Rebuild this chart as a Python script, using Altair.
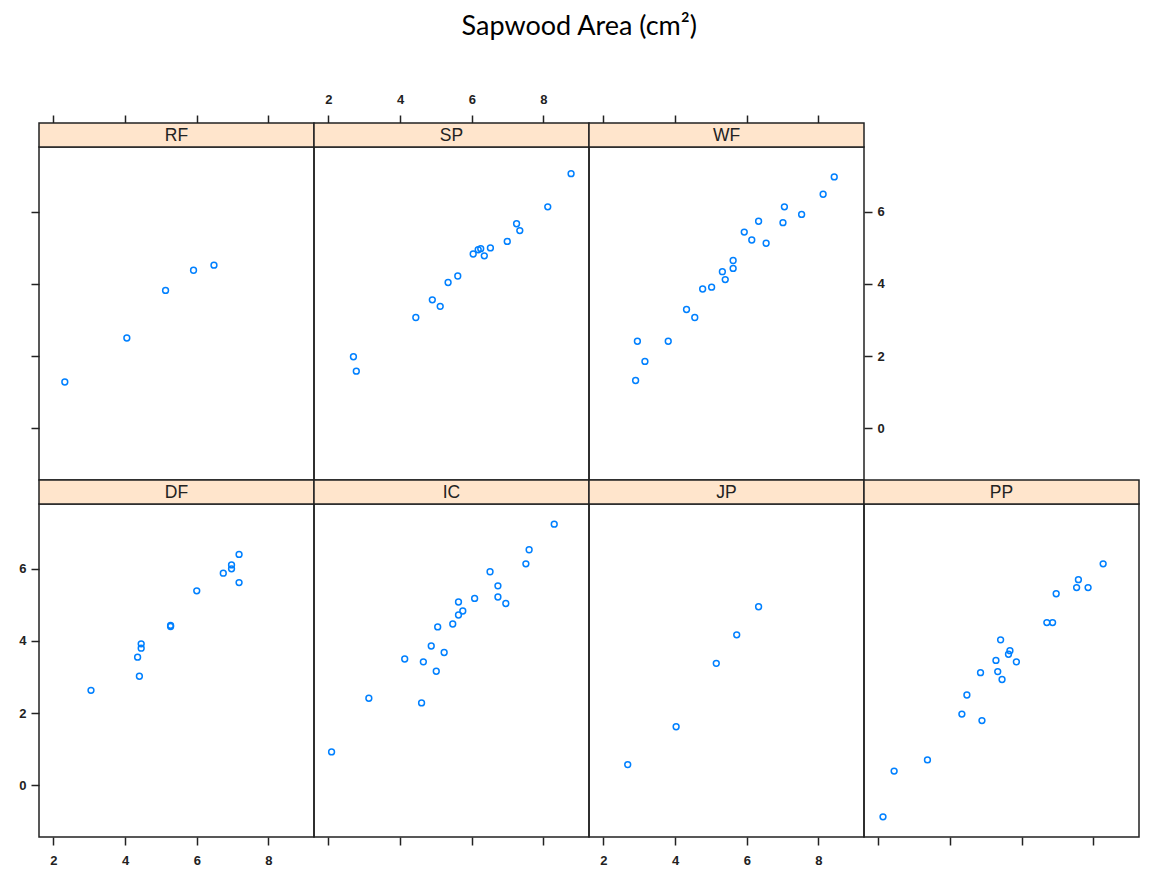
import altair as alt
import pandas as pd

# ---- data (x = log-ish predictor, y = sapwood area) ----
RF_x = [2.32, 4.05, 5.13, 5.91, 6.48]
RF_y = [1.28, 2.50, 3.82, 4.38, 4.52]

SP_x = [8.77, 8.12, 7.25, 7.34, 6.99, 6.52, 6.25, 6.18, 6.04, 6.35, 5.61, 5.34, 4.90, 5.12, 4.44, 2.70, 2.78]
SP_y = [7.06, 6.14, 5.67, 5.48, 5.18, 5.00, 4.98, 4.95, 4.83, 4.78, 4.22, 4.04, 3.56, 3.38, 3.07, 1.98, 1.58]

WF_x = [8.44, 8.13, 7.05, 7.53, 7.01, 6.33, 5.93, 6.14, 6.54, 5.62, 5.62, 5.32, 5.40, 5.02, 4.77, 4.32, 4.55, 2.95, 3.81, 3.16, 2.90]
WF_y = [6.97, 6.49, 6.14, 5.93, 5.70, 5.74, 5.44, 5.22, 5.13, 4.65, 4.43, 4.34, 4.12, 3.91, 3.86, 3.29, 3.07, 2.41, 2.41, 1.85, 1.32]

DF_x = [7.18, 6.97, 6.97, 6.74, 7.18, 6.00, 5.27, 5.27, 4.45, 4.45, 4.35, 4.40, 3.05]
DF_y = [6.40, 6.11, 6.00, 5.88, 5.62, 5.39, 4.43, 4.40, 3.92, 3.80, 3.55, 3.02, 2.63]

IC_x = [8.30, 7.60, 7.51, 6.51, 6.73, 6.73, 6.95, 6.08, 5.63, 5.75, 5.63, 5.47, 5.05, 4.87, 5.23, 4.13, 4.65, 5.01, 3.13, 4.60, 2.09]
IC_y = [7.24, 6.53, 6.14, 5.92, 5.53, 5.22, 5.04, 5.18, 5.08, 4.83, 4.72, 4.47, 4.39, 3.86, 3.68, 3.50, 3.42, 3.16, 2.41, 2.28, 0.92]

JP_x = [6.33, 5.72, 5.15, 4.03, 2.68]
JP_y = [4.95, 4.17, 3.38, 1.62, 0.57]

PP_x = [8.27, 7.58, 7.53, 7.85, 6.96, 6.70, 6.86, 5.41, 5.67, 5.63, 5.28, 5.85, 5.33, 5.45, 4.85, 4.47, 4.33, 4.89, 3.37, 2.44, 2.13]
PP_y = [6.14, 5.70, 5.48, 5.48, 5.31, 4.51, 4.51, 4.03, 3.73, 3.63, 3.46, 3.42, 3.15, 2.93, 3.12, 2.50, 1.97, 1.79, 0.70, 0.39, -0.88]

x_ticks = [2, 4, 6, 8]
y_ticks = [0, 2, 4, 6]
title_text = "Sapwood Area (cm²)"

# ---- layout / style ----
W, H, STRIP = 275, 333, 24
XDOM = [1.6, 9.27]
YDOM = [-1.44, 7.8]
INK = "#222222"


def xaxis(orient, labels):
    return alt.Axis(orient=orient, values=x_ticks, labels=labels, title=None,
                    offset=STRIP if orient == "top" else 0,
                    labelPadding=9)


def yaxis(orient, labels):
    return alt.Axis(orient=orient, values=y_ticks, labels=labels, title=None,
                    labelPadding=5)


def panel(name, xs, ys, xax, yax):
    df = pd.DataFrame({"x": xs, "y": ys})
    xenc = alt.X("x:Q", scale=alt.Scale(domain=XDOM, nice=False, zero=False),
                 axis=xax if xax is not None else None)
    yenc = alt.Y("y:Q", scale=alt.Scale(domain=YDOM, nice=False, zero=False),
                 axis=yax if yax is not None else None)
    pts = alt.Chart(df).mark_point(shape="circle", filled=False, color="#0080ff",
                                   size=34, strokeWidth=1.5, opacity=1).encode(x=xenc, y=yenc)
    sdf = pd.DataFrame({"label": [name]})
    rect = alt.Chart(sdf).mark_rect(fill="#ffe5cc", stroke=INK, strokeWidth=1.5).encode(
        x=alt.value(0), x2=alt.value(W), y=alt.value(-STRIP), y2=alt.value(0))
    txt = alt.Chart(sdf).mark_text(font="Liberation Sans", fontSize=17.5, color=INK,
                                   baseline="middle", align="center").encode(
        x=alt.value(W / 2), y=alt.value(-STRIP / 2 + 1), text="label:N")
    return alt.layer(rect, pts, txt).properties(width=W, height=H)


blank = alt.Chart(pd.DataFrame({"x": [5], "y": [3]})).mark_point(opacity=0).encode(
    x=alt.X("x:Q", axis=None, scale=alt.Scale(domain=XDOM)),
    y=alt.Y("y:Q", axis=None, scale=alt.Scale(domain=YDOM)),
).properties(width=W, height=H, view=alt.ViewBackground(strokeOpacity=0))

charts = [
    panel("RF", RF_x, RF_y, xaxis("top", False), yaxis("left", False)),
    panel("SP", SP_x, SP_y, xaxis("top", True), None),
    panel("WF", WF_x, WF_y, xaxis("top", False), yaxis("right", True)),
    blank,
    panel("DF", DF_x, DF_y, xaxis("bottom", True), yaxis("left", True)),
    panel("IC", IC_x, IC_y, xaxis("bottom", False), None),
    panel("JP", JP_x, JP_y, xaxis("bottom", True), None),
    panel("PP", PP_x, PP_y, xaxis("bottom", False), None),
]

chart = alt.concat(*charts, columns=4, spacing={"row": STRIP, "column": 0},
                   bounds="flush").properties(
    title=alt.TitleParams(text=title_text, font="Lato", fontSize=27, fontWeight="normal",
                          color="black", anchor="middle", offset=51),
    padding={"left": 10, "top": 5, "right": 0, "bottom": 0},
).configure_view(
    stroke=INK, strokeWidth=1.5
).configure_axis(
    domain=False, grid=False, tickColor=INK, tickWidth=1.5, tickSize=8,
    labelFont="Liberation Sans", labelFontSize=13, labelFontWeight="bold", labelColor=INK,
)

chart.save("out.html", embed_options={"renderer": "svg", "actions": False})
